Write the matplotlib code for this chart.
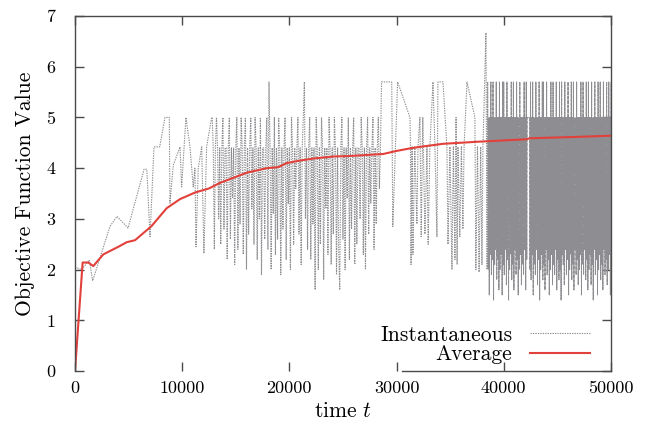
import numpy as np
import matplotlib
matplotlib.use("Agg")
import matplotlib.pyplot as plt
from matplotlib import rc

rc('font', **{'family': 'serif', 'serif': ['cmr10']})
rc('mathtext', fontset='cm')
rc('axes', unicode_minus=False)

# --- instantaneous objective value ---
# sparse start (explicit times)
t_early = [0, 620, 1340, 1650, 3260, 3920, 4950, 6450, 6700, 7000, 7370, 7900,
           8400, 8800, 8860, 9170, 9800, 9950, 10350, 10730, 11030, 11190,
           11290, 11500, 11820, 12030, 12280, 12750]
v_early = [2.05, 2.0, 2.19, 1.78, 2.85, 3.05, 2.82, 3.98, 3.98, 2.65, 4.42, 4.42,
           5.0, 5.0, 3.31, 4.06, 4.42, 3.63, 5.0, 4.42, 3.63, 4.0,
           2.45, 4.0, 4.42, 2.32, 4.42, 5.0]

# middle part, sampled every 100 steps from t = 12800
t_mid_start, t_mid_step = 12800, 100
v_mid = [5.0, 4.4, 2.4, 4.4, 5.0, 4.4, 3.0, 4.4, 2.5, 4.4,
         5.0, 2.8, 4.4, 4.4, 2.2, 4.4, 5.0, 2.6, 4.4, 3.4,
         4.4, 2.1, 4.4, 5.0, 2.4, 4.4, 2.9, 5.0, 4.4, 2.3,
         4.4, 5.0, 2.0, 4.4, 2.7, 4.4, 5.0, 3.2, 4.4, 2.5,
         5.0, 4.4, 2.2, 4.4, 3.0, 5.0, 1.9, 4.4, 4.4, 2.6,
         4.4, 5.0, 2.4, 5.7, 4.4, 2.0, 4.4, 3.1, 5.0, 2.3,
         4.4, 2.6, 5.0, 4.4, 1.9, 4.4, 2.8, 4.4, 5.0, 2.2,
         4.4, 3.3, 4.4, 2.0, 5.0, 4.4, 2.5, 4.4, 3.6, 4.4,
         5.0, 2.7, 4.4, 2.1, 4.4, 5.0, 5.7, 3.0, 4.4, 2.4,
         4.4, 5.0, 2.2, 4.4, 2.9, 4.4, 1.6, 5.0, 4.4, 2.0,
         4.4, 2.5, 5.0, 4.4, 1.8, 4.4, 3.2, 4.4, 2.3, 5.0,
         4.4, 2.1, 4.4, 2.7, 5.0, 4.4, 1.9, 4.4, 2.4, 1.6,
         4.4, 5.0, 2.6, 4.4, 2.0, 4.4, 3.4, 5.0, 2.2, 4.4,
         2.8, 4.4, 5.0, 2.1, 4.4, 2.5, 4.4, 4.4, 3.0, 5.0,
         4.4, 2.3, 4.4, 2.0, 4.4, 5.0, 2.7, 4.4, 3.3, 4.4,
         5.0, 2.4, 4.4, 2.9, 4.4, 5.0, 3.6, 4.4, 5.7, 5.7]

# sparser stretch before the dense block (explicit times)
t_late = [28900, 29550, 29650, 30100, 31250, 31300, 31350, 31450, 31530, 31700,
          31900, 32000, 32180, 32300, 32450, 32650, 32840, 32950, 33110, 33400,
          33580, 33770, 33860, 34330, 34700, 34800, 34980, 35170, 35300, 35450,
          35550, 35650, 35730, 35900, 36050, 36190, 36300, 36570, 37310, 37400,
          37550, 37700, 37850, 37970, 38060, 38340, 38450]
v_late = [5.7, 5.7, 2.85, 5.7, 5.0, 4.42, 2.1, 4.42, 2.3, 4.42,
          2.9, 4.42, 5.0, 2.65, 5.0, 2.7, 4.42, 2.5, 4.42, 5.7,
          4.42, 2.65, 5.7, 5.7, 4.42, 2.5, 4.42, 2.0, 4.42, 2.2,
          5.0, 2.1, 4.42, 2.65, 4.42, 2.8, 4.42, 5.7, 5.0, 2.0,
          4.42, 1.95, 4.42, 2.1, 4.42, 6.67, 2.0]

# dense block from t = 38500, every 50 steps, alternating high / low
t_dense_start, t_dense_step = 38500, 50
v_dense_hi = [5.7, 5.0, 5.0, 5.7, 5.0, 5.7, 5.0, 5.0, 5.7, 5.0,
              5.0, 5.7, 5.0, 5.0, 5.7, 5.7, 5.0, 5.0, 5.7, 5.0,
              5.0, 5.0, 5.7, 5.0, 5.7, 5.0, 5.0, 5.7, 5.0, 5.0,
              5.7, 5.0, 5.0, 5.0, 5.7, 5.0, 5.7, 5.0, 5.0, 5.0,
              5.7, 5.0, 5.7, 5.0, 5.0, 5.7, 5.0, 5.0, 5.7, 5.0,
              5.0, 5.7, 5.7, 5.0, 5.0, 5.7, 5.0, 5.0, 5.0, 5.7,
              5.0, 5.7, 5.0, 5.0, 5.7, 5.0, 5.0, 5.7, 5.0, 5.7,
              5.0, 5.0, 5.7, 5.0, 5.0, 5.7, 5.0, 5.0, 5.7, 5.0,
              5.7, 5.0, 5.0, 5.7, 5.0, 5.0, 5.0, 5.7, 5.0, 5.7,
              5.0, 5.0, 5.7, 5.0, 5.7, 5.0, 5.0, 5.7, 5.0, 5.0,
              5.7, 5.0, 5.0, 5.7, 5.0, 5.7, 5.0, 5.0, 5.7, 5.0,
              5.0, 5.7, 5.0, 5.7, 5.0, 5.7]
v_dense_lo = [2.0, 1.5, 2.3, 1.9, 2.2, 1.4, 2.1, 2.4, 1.8, 2.2,
              1.6, 2.0, 2.3, 1.5, 2.1, 1.9, 2.4, 1.7, 2.2, 1.4,
              2.0, 2.3, 1.8, 2.1, 1.6, 2.4, 1.9, 2.2, 1.5, 2.0,
              2.3, 1.7, 2.1, 1.9, 2.4, 1.6, 2.2, 5.0, 5.0, 2.0,
              1.8, 2.3, 1.5, 2.1, 1.9, 2.4, 1.7, 2.2, 1.4, 2.0,
              2.3, 1.8, 2.1, 1.6, 2.4, 1.9, 2.2, 1.5, 2.0, 2.3,
              1.7, 2.1, 1.9, 2.4, 1.6, 2.2, 1.8, 2.0, 1.4, 2.3,
              2.1, 1.7, 2.4, 1.9, 2.2, 1.5, 2.0, 2.3, 1.8, 2.1,
              1.6, 2.4, 1.9, 2.2, 1.7, 2.0, 2.3, 1.5, 2.1, 1.9,
              2.4, 1.8, 2.2, 1.6, 2.0, 2.3, 1.7, 2.1, 1.4, 2.4,
              1.9, 2.2, 1.5, 2.0, 2.3, 1.8, 2.1, 1.6, 2.4, 1.9,
              2.2, 1.7, 2.0, 2.3, 1.5]

# --- running average ---
t_avg = [0, 715, 1240, 1710, 2640, 4040, 4820, 5600, 7150, 8550, 9800, 11200,
         12500, 13530, 14770, 16010, 17880, 18970, 19750, 20990, 22230, 24100,
         25650, 27210, 28760, 30010, 31250, 32180, 34330, 37470, 42130, 42440,
         45870, 50000]
v_avg = [0.0, 2.14, 2.14, 2.07, 2.30, 2.45, 2.54, 2.58, 2.86, 3.21, 3.39, 3.52,
         3.60, 3.71, 3.81, 3.91, 4.00, 4.02, 4.10, 4.15, 4.19, 4.23,
         4.24, 4.26, 4.28, 4.34, 4.39, 4.42, 4.48, 4.52, 4.57, 4.59,
         4.61, 4.64]


def main():
    t_mid = t_mid_start + t_mid_step * np.arange(len(v_mid))
    v_dense = np.empty(len(v_dense_hi) + len(v_dense_lo))
    v_dense[0::2] = v_dense_hi
    v_dense[1::2] = v_dense_lo
    t_dense = t_dense_start + t_dense_step * np.arange(len(v_dense))

    t_inst = np.concatenate([t_early, t_mid, t_late, [t_dense[0]]])
    v_inst = np.concatenate([v_early, v_mid, v_late, [v_dense[0]]])

    fig = plt.figure(figsize=(6.52, 4.32), dpi=100)
    ax = fig.add_axes([0.115, 0.141, 0.822, 0.822])

    gray = '#8e8e92'
    red = '#e2403a'
    ax.plot(t_inst, v_inst, color=gray, lw=0.8, linestyle=(0, (1.2, 1.0)),
            label='Instantaneous')
    # the dense tail renders as a near solid band
    ax.plot(t_dense, v_dense, color=gray, lw=0.7, linestyle=(0, (4.0, 0.6)))
    ax.plot(t_avg, v_avg, color=red, lw=1.5, label='Average')

    ax.set_xlim(0, 50000)
    ax.set_ylim(0, 7)
    ax.set_xticks([0, 10000, 20000, 30000, 40000, 50000])
    ax.set_yticks(range(8))

    for s in ax.spines.values():
        s.set_color('#4a4a4a')
        s.set_linewidth(1.0)
    ax.spines['bottom'].set_bounds(30500, 50000)

    ax.tick_params(axis='both', which='both', direction='in', length=6.5,
                   width=1.0, color='#4a4a4a', top=True, right=True,
                   labelsize=13, pad=7)
    ax.tick_params(axis='y', pad=14)

    ax.set_xlabel(r'time $t$', fontsize=15.5, labelpad=4)
    ax.set_ylabel('Objective Function Value', fontsize=15.5, labelpad=8)

    ax.legend(loc='lower right', bbox_to_anchor=(0.977, -0.005), frameon=False,
              markerfirst=False, fontsize=15.5, handlelength=2.8,
              handletextpad=0.8, borderaxespad=0.0, labelspacing=0.0)

    fig.savefig('out.png', dpi=100)


if __name__ == '__main__':
    main()
